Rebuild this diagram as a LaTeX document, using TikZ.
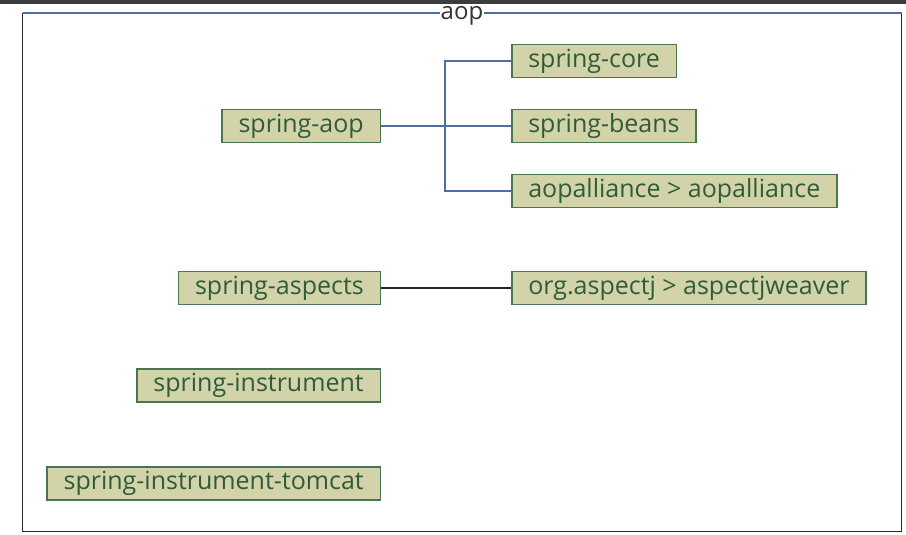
\documentclass[tikz,border=0pt]{standalone}
\usepackage{fontspec}
\setmainfont{Open Sans}
\usepackage{tikz}
\definecolor{boxfill}{HTML}{D3D3A9}
\definecolor{boxline}{HTML}{4A7550}
\definecolor{boxtext}{HTML}{2F5C38}
\definecolor{linkblue}{HTML}{4F6FA3}
\definecolor{topbar}{HTML}{3B3E41}
\tikzset{
  dep/.style={draw=boxline,fill=boxfill,text=boxtext,line width=1.5pt,
    minimum height=33pt,inner xsep=16.5pt,inner ysep=0pt,
    font=\fontsize{25}{28}\selectfont},
  aoplink/.style={draw=linkblue,line width=1.6pt},
  asplink/.style={draw=black!85,line width=1.6pt}
}

\begin{document}
\begin{tikzpicture}[x=1pt,y=-1pt]
      \useasboundingbox (0,0) rectangle (906,535);
      \fill[topbar] (0,0) rectangle (906,4);
      \draw[black!85,line width=1.5pt] (22.5,13) -- (22.5,531.5) -- (901.5,531.5) -- (901.5,13);
      \draw[linkblue,line width=1.5pt] (22.5,13) -- (901.5,13);
      \node [fill=white,inner xsep=1pt,inner ysep=0pt,text=black!80,anchor=base,
        font=\fontsize{24}{26}\selectfont] (title) at (462,19.5) {aop};

      \node [dep,anchor=east] (aop) at (381,126) {spring-aop};
      \node [dep,anchor=west] (core) at (511,61) {spring-core};
      \node [dep,anchor=west] (beans) at (511,126) {spring-beans};
      \node [dep,anchor=west] (alli) at (511,191) {aopalliance > aopalliance};

      \node [dep,anchor=east] (asp) at (381,288) {spring-aspects};
      \node [dep,anchor=west] (weaver) at (511,288) {org.aspectj > aspectjweaver};

      \node [dep,anchor=east] (inst) at (381,385.5) {spring-instrument};
      \node [dep,anchor=east] (tomcat) at (381,483.5) {spring-instrument-tomcat};

      \coordinate (j) at (445,126);
      \draw[aoplink] (aop) -- (j);
      \draw[aoplink] (j) |- (core);
      \draw[aoplink] (j) |- (beans);
      \draw[aoplink] (j) |- (alli);
      \draw[asplink] (asp) -- (weaver);
    \end{tikzpicture}
\end{document}
